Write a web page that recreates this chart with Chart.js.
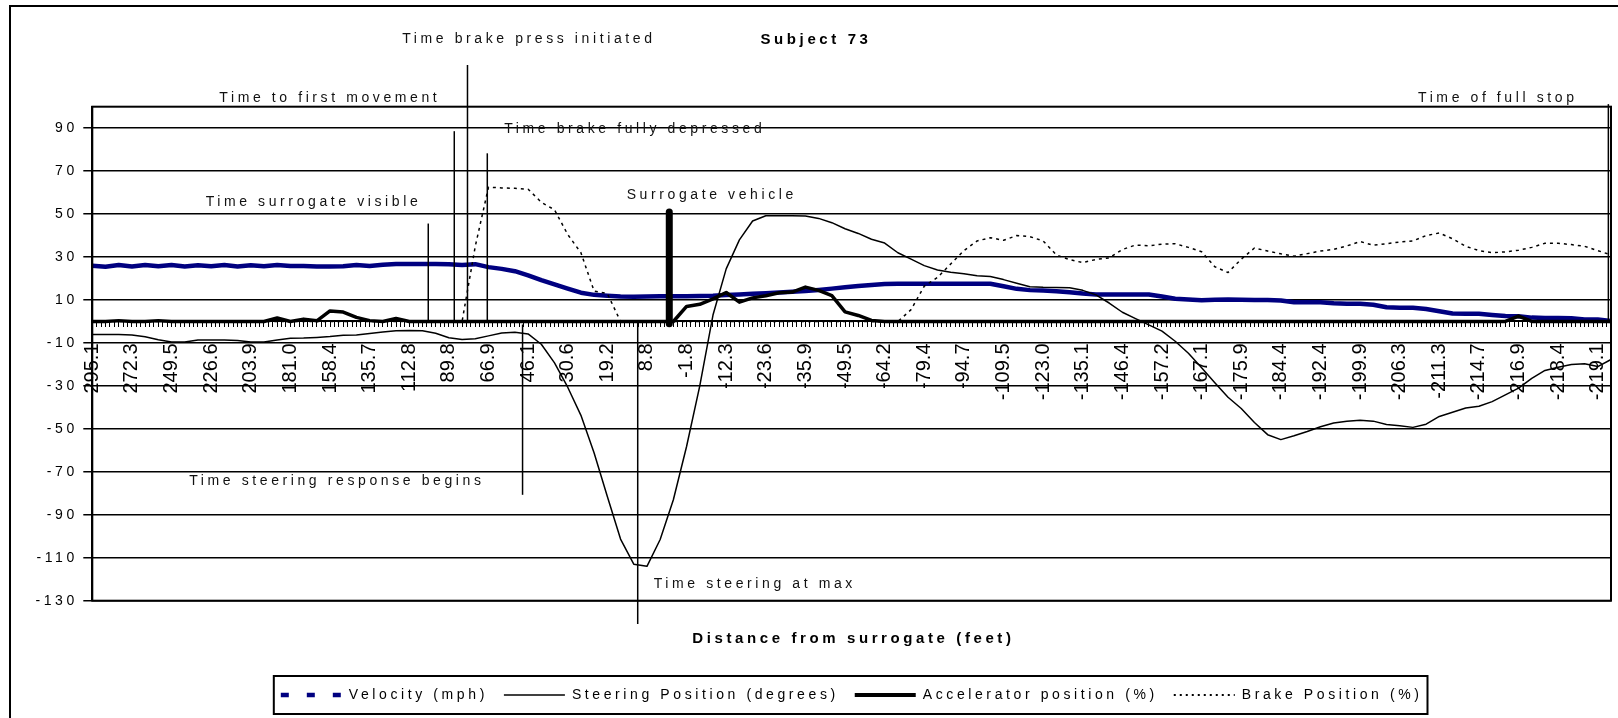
<!DOCTYPE html>
<html>
<head>
<meta charset="utf-8">
<title>Subject 73</title>
<script src="https://cdn.jsdelivr.net/npm/chart.js@4.4.1/dist/chart.umd.min.js"></script>
<style>
    html, body { margin: 0; padding: 0; background: #fff; }
    canvas { display: block; }
</style>
</head>
<body>
<canvas id="chart" width="1618" height="718"></canvas>
<script>
// Distance labels shown under the axis (one every 3 samples)
const distanceLabels = [
    '295.1', '272.3', '249.5', '226.6', '203.9', '181.0', '158.4', '135.7', '112.8', '89.8',
    '66.9', '46.1', '30.6', '19.2', '8.8', '-1.8', '-12.3', '-23.6', '-35.9', '-49.5',
    '-64.2', '-79.4', '-94.7', '-109.5', '-123.0', '-135.1', '-146.4', '-157.2', '-167.1', '-175.9',
    '-184.4', '-192.4', '-199.9', '-206.3', '-211.3', '-214.7', '-216.9', '-218.4', '-219.1'
];
const samplesPerLabel = 3;

const yTicks = [-130, -110, -90, -70, -50, -30, -10, 10, 30, 50, 70, 90];

const velocity = [
    26.0, 25.5, 26.3, 25.6, 26.3, 25.7, 26.3, 25.6, 26.2, 25.7,
    26.3, 25.6, 26.2, 25.7, 26.3, 25.8, 25.8, 25.6, 25.6, 25.7,
    26.3, 25.8, 26.4, 26.8, 26.8, 26.8, 26.8, 26.6, 26.3, 26.7,
    25.3, 24.5, 23.4, 21.5, 19.3, 17.3, 15.3, 13.4, 12.4, 12.0,
    11.6, 11.5, 11.6, 11.7, 11.8, 11.8, 11.9, 12.0, 12.3, 12.6,
    12.9, 13.2, 13.5, 13.8, 14.2, 14.7, 15.3, 15.9, 16.5, 17.0,
    17.5, 17.6, 17.6, 17.6, 17.6, 17.6, 17.6, 17.6, 17.6, 16.4,
    15.2, 14.6, 14.4, 14.1, 13.6, 13.0, 12.6, 12.6, 12.6, 12.6,
    12.6, 11.6, 10.6, 10.2, 9.9, 10.1, 10.2, 10.1, 10.0, 10.0,
    9.8, 9.0, 9.0, 9.0, 8.5, 8.3, 8.3, 7.8, 6.6, 6.4,
    6.4, 5.8, 4.8, 3.7, 3.6, 3.6, 3.0, 2.5, 2.4, 1.8,
    1.6, 1.6, 1.5, 0.9, 0.9, 0.2
];

const steering = [
    -6.1, -6.1, -6.1, -6.3, -7.1, -8.5, -9.5, -9.5, -8.6, -8.6,
    -8.6, -8.8, -9.5, -9.5, -8.6, -7.8, -7.7, -7.4, -7.0, -6.4,
    -6.3, -5.6, -4.9, -4.3, -4.2, -4.3, -5.5, -7.6, -8.4, -8.0,
    -6.7, -5.4, -5.0, -5.8, -10.6, -19.3, -30.6, -43.7, -61.2, -81.5,
    -101.3, -113.0, -114.0, -101.5, -83.0, -58.2, -30.0, 3.0, 24.5, 38.0,
    46.8, 49.2, 49.2, 49.2, 49.1, 48.0, 46.0, 43.2, 41.0, 38.3,
    36.5, 32.0, 29.0, 26.0, 24.0, 22.9, 22.2, 21.3, 20.9, 19.5,
    17.8, 16.2, 15.9, 15.8, 15.7, 14.5, 12.4, 8.6, 4.3, 1.3,
    -1.6, -4.5, -9.2, -14.8, -21.5, -28.5, -35.3, -40.5, -47.0, -52.7,
    -55.0, -53.2, -51.2, -49.0, -47.3, -46.5, -46.0, -46.4, -48.0, -48.6,
    -49.3, -47.8, -44.2, -42.3, -40.3, -39.5, -37.3, -34.2, -31.0, -26.5,
    -22.8, -21.3, -20.0, -19.7, -21.0, -17.7
];

const accelerator = [
    0, 0, 0.4, 0, 0, 0.4, 0, 0, 0, 0,
    0, 0, 0, 0, 1.6, 0, 1.1, 0.3, 4.9, 4.4,
    1.9, 0.4, 0, 1.4, 0, 0, 0, 0, 0, 0,
    0, 0, 0, 0, 0, 0, 0, 0, 0, 0,
    0, 0, 0, 0, 0, 7.0, 8.0, 10.5, 13.5, 9.0,
    11.0, 12.0, 13.4, 13.7, 16.0, 14.5, 12.0, 4.5, 2.8, 0.5,
    0, 0, 0, 0, 0, 0, 0, 0, 0, 0,
    0, 0, 0, 0, 0, 0, 0, 0, 0, 0,
    0, 0, 0, 0, 0, 0, 0, 0, 0, 0,
    0, 0, 0, 0, 0, 0, 0, 0, 0, 0,
    0, 0, 0, 0, 0, 0, 0, 0, 2.5, 0,
    0, 0, 0, 0, 0, 0
];

const brake = [
    0, 0, 0, 0, 0, 0, 0, 0, 0, 0,
    0, 0, 0, 0, 0, 0, 0, 0, 0, 0,
    0, 0, 0, 0, 0, 0, 0, 0, 0, 35.0,
    62.5, 62.2, 62.0, 61.6, 55.5, 52.0, 40.5, 32.0, 14.1, 13.0,
    0, 0, 0, 0, 0, 0, 0, 0, 0, 0,
    0, 0, 0, 0, 0, 0, 0, 0, 0, 0,
    0, 0, 5.5, 16.5, 20.5, 26.8, 33.0, 37.5, 39.0, 37.8,
    40.0, 39.5, 37.5, 31.0, 28.8, 27.4, 28.9, 29.6, 33.5, 35.6,
    35.2, 36.0, 36.2, 34.5, 32.5, 25.5, 22.8, 29.0, 34.2, 32.8,
    31.5, 30.4, 31.6, 32.8, 33.6, 35.2, 37.2, 35.5, 36.2, 37.0,
    37.5, 40.0, 41.2, 38.5, 35.0, 33.0, 32.0, 32.4, 33.2, 34.5,
    36.4, 36.4, 35.8, 35.0, 33.0, 31.0
];

// Event markers: x in sample index, y in axis units
const markers = [
    { text: 'Time surrogate visible', at: 25.44, top: 45.6, bottom: 0, tx: 16.61, ty: 55.4 },
    { text: 'Time to first movement', at: 27.41, top: 88.6, bottom: 0, tx: 17.85, ty: 104.0 },
    { text: 'Time brake press initiated', at: 28.41, top: 119.4, bottom: 0, tx: 32.92, ty: 131.5 },
    { text: 'Time brake fully depressed', at: 29.91, top: 78.3, bottom: 0, tx: 40.94, ty: 89.6 },
    { text: 'Surrogate vehicle', at: 43.69, top: 51, bottom: -1, tx: 46.77, ty: 58.8, heavy: true },
    { text: 'Time steering response begins', at: 32.58, top: -1.4, bottom: -80.7, tx: 18.38, ty: -74.2 },
    { text: 'Time steering at max', at: 41.3, top: 0, bottom: -140.9, tx: 50.03, ty: -122.2 },
    { text: 'Time of full stop', at: 114.8, top: 101.2, bottom: 0, tx: 106.29, ty: 104.0 }
];

const FONT = '"Liberation Sans", Arial, sans-serif';
const TEXT_SPACING = '3.6px';

// legend sample styles, same order as datasets
const legendStyles = [
    { color: '#000080', width: 4.5, dash: [8, 18] },
    { color: '#000', width: 1.5, dash: [] },
    { color: '#000', width: 4, dash: [] },
    { color: '#000', width: 2, dash: [2, 4] }
];

// category labels: show a distance every few samples
const categoryLabels = velocity.map((v, i) =>
    i % samplesPerLabel === 0 ? (distanceLabels[i / samplesPerLabel] || '') : '');
const minorTicks = [];
for (let i = 0; i <= (velocity.length - 1) * 3; i++) minorTicks.push(i);

function withSpacing(ctx, spacing, fn) {
    const old = ctx.letterSpacing;
    ctx.letterSpacing = spacing;
    fn();
    ctx.letterSpacing = old;
}

// letter spacing for tick labels
const spacingPlugin = {
    id: 'spacing',
    afterLayout(chart) {
        [['x', '0px'], ['y', TEXT_SPACING]].forEach(([id, sp]) => {
            const scale = chart.scales[id];
            if (scale && !scale._spaced) {
                const draw = scale.drawLabels.bind(scale);
                scale.drawLabels = area => withSpacing(chart.ctx, sp, () => draw(area));
                scale._spaced = true;
            }
        });
    }
};

// marker lines and texts
const markerPlugin = {
    id: 'markers',
    afterDatasetsDraw(chart) {
        const { ctx, scales: { x, y } } = chart;
        ctx.save();
        ctx.strokeStyle = '#000';
        markers.forEach(m => {
            const px = x.getPixelForValue(m.at);
            ctx.beginPath();
            ctx.lineWidth = m.heavy ? 7 : 1.5;
            ctx.lineCap = m.heavy ? 'round' : 'butt';
            ctx.moveTo(px, y.getPixelForValue(m.top));
            ctx.lineTo(px, y.getPixelForValue(m.bottom));
            ctx.stroke();
        });
        ctx.font = '14px ' + FONT;
        ctx.fillStyle = '#111';
        ctx.textAlign = 'center';
        ctx.textBaseline = 'middle';
        withSpacing(ctx, TEXT_SPACING, () => {
            markers.forEach(m => {
                ctx.fillText(m.text, x.getPixelForValue(m.tx) + 1.8, y.getPixelForValue(m.ty));
            });
        });
        ctx.restore();
    }
};

// frame, titles and boxed legend
const framePlugin = {
    id: 'frame',
    afterDraw(chart) {
        const { ctx, chartArea: a } = chart;
        ctx.save();
        ctx.strokeStyle = '#000';
        ctx.lineWidth = 2;
        ctx.strokeRect(a.left, a.top, a.right - a.left, a.bottom - a.top);

        // outer border (left and top edges visible)
        ctx.beginPath();
        ctx.moveTo(10, 718);
        ctx.lineTo(10, 6);
        ctx.lineTo(1618, 6);
        ctx.stroke();

        ctx.fillStyle = '#000';
        ctx.textAlign = 'center';
        ctx.textBaseline = 'middle';
        withSpacing(ctx, TEXT_SPACING, () => {
            ctx.font = 'bold 15px ' + FONT;
            ctx.fillText('Subject 73', 816, 40);
            ctx.fillText('Distance from surrogate (feet)', (a.left + a.right) / 2 + 1.8, a.bottom + 38);

            // legend
            ctx.font = '14px ' + FONT;
            const sample = 61, gap = 7, between = 16;
            const items = chart.data.datasets.map((ds, i) => ({
                label: ds.label, style: legendStyles[i], w: ctx.measureText(ds.label).width
            }));
            const total = items.reduce((s, it) => s + sample + gap + it.w, 0) + between * (items.length - 1);
            let cx = (a.left + a.right) / 2 - total / 2;
            const boxTop = 676, boxH = 38, cy = boxTop + boxH / 2;
            ctx.lineWidth = 2;
            ctx.strokeRect(cx - 7, boxTop, total + 12, boxH);
            ctx.textAlign = 'left';
            items.forEach(it => {
                ctx.beginPath();
                ctx.strokeStyle = it.style.color;
                ctx.lineWidth = it.style.width;
                ctx.setLineDash(it.style.dash);
                ctx.moveTo(cx, cy);
                ctx.lineTo(cx + sample, cy);
                ctx.stroke();
                ctx.setLineDash([]);
                ctx.fillText(it.label, cx + sample + gap, cy);
                cx += sample + gap + it.w + between;
            });
        });
        ctx.restore();
    }
};

new Chart(document.getElementById('chart'), {
    type: 'line',
    data: {
        labels: categoryLabels,
        datasets: [
            { label: 'Velocity (mph)', data: velocity, borderColor: '#000080', borderWidth: 4.5, order: 3 },
            { label: 'Steering Position (degrees)', data: steering, borderColor: '#000', borderWidth: 1.5, order: 1 },
            { label: 'Accelerator position (%)', data: accelerator, borderColor: '#000', borderWidth: 3.5, order: 0 },
            { label: 'Brake Position (%)', data: brake, borderColor: '#000', borderWidth: 1.5, borderDash: [3, 4], order: 2 }
        ]
    },
    options: {
        responsive: false,
        animation: false,
        layout: { padding: { left: 0, right: 7, top: 106.7, bottom: 117.3 } },
        elements: {
            point: { radius: 0 },
            line: { tension: 0, borderJoinStyle: 'round', fill: false }
        },
        plugins: {
            legend: { display: false },
            title: { display: false },
            tooltip: { enabled: false }
        },
        scales: {
            x: {
                type: 'category',
                position: { y: 0 },
                // hidden tick marks only push the labels below the axis
                grid: { display: false, drawTicks: true, tickLength: 21 },
                border: { display: true, color: '#000', width: 2 },
                ticks: {
                    autoSkip: false, minRotation: 90, maxRotation: 90, padding: 1,
                    color: '#000', font: { family: FONT, size: 20, lineHeight: 0.2 }
                }
            },
            xt: {
                type: 'linear',
                position: { y: 0 },
                min: 0,
                max: minorTicks[minorTicks.length - 1],
                afterBuildTicks: s => { s.ticks = minorTicks.map(v => ({ value: v })); },
                grid: { drawOnChartArea: false, drawTicks: true, tickLength: 6, color: '#000', lineWidth: 1 },
                border: { display: false },
                ticks: { display: false }
            },
            y: {
                type: 'linear',
                min: -130,
                max: 100,
                afterBuildTicks: s => { s.ticks = yTicks.map(v => ({ value: v })); },
                afterFit: s => { s.width = 92.3; },
                grid: { color: '#000', lineWidth: 1.5, tickLength: 9 },
                border: { display: true, color: '#000', width: 2 },
                ticks: { padding: 5.5, color: '#000', font: { family: FONT, size: 14 } }
            }
        }
    },
    plugins: [spacingPlugin, markerPlugin, framePlugin]
});
</script>
</body>
</html>
